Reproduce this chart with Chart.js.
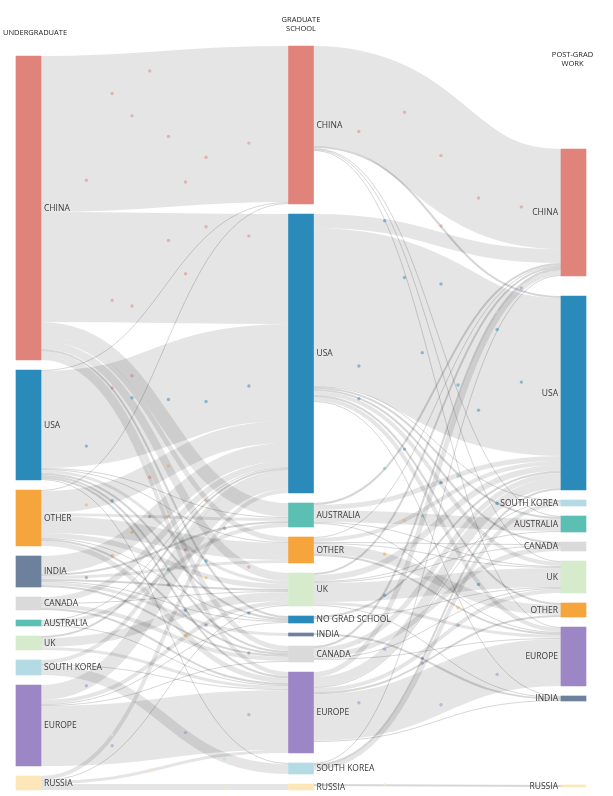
<!DOCTYPE html>
<html>
<head>
<meta charset="utf-8">
<title>AI talent flows</title>
<script src="https://cdn.jsdelivr.net/npm/chart.js@4"></script>
<style>
  html, body { margin: 0; padding: 0; background: #fff; }
  canvas { display: block; }
</style>
</head>
<body>
<canvas id="sankey" width="613" height="796"></canvas>
<script>
// columns of the diagram, top to bottom
const undergrad = ['CHINA', 'USA', 'OTHER', 'INDIA', 'CANADA', 'AUSTRALIA', 'UK', 'SOUTH KOREA', 'EUROPE', 'RUSSIA'];
const gradSchool = ['CHINA', 'USA', 'AUSTRALIA', 'OTHER', 'UK', 'NO GRAD SCHOOL', 'INDIA', 'CANADA', 'EUROPE', 'SOUTH KOREA', 'RUSSIA'];
const postGrad = ['CHINA', 'USA', 'SOUTH KOREA', 'AUSTRALIA', 'CANADA', 'UK', 'OTHER', 'EUROPE', 'INDIA', 'RUSSIA'];
const columnTitles = [['UNDERGRADUATE'], ['GRADUATE', 'SCHOOL'], ['POST-GRAD', 'WORK']];

// [from, to, researchers]
const undergradToGrad = [
    ['CHINA', 'CHINA', 156], ['CHINA', 'USA', 110], ['CHINA', 'AUSTRALIA', 14], ['CHINA', 'OTHER', 5],
    ['CHINA', 'UK', 8], ['CHINA', 'NO GRAD SCHOOL', 2], ['CHINA', 'CANADA', 5], ['CHINA', 'EUROPE', 4],
    ['USA', 'CHINA', 1], ['USA', 'USA', 97], ['USA', 'AUSTRALIA', 1], ['USA', 'OTHER', 1], ['USA', 'UK', 3],
    ['USA', 'NO GRAD SCHOOL', 2], ['USA', 'CANADA', 2], ['USA', 'EUROPE', 2], ['USA', 'SOUTH KOREA', 1],
    ['OTHER', 'CHINA', 1], ['OTHER', 'USA', 22], ['OTHER', 'AUSTRALIA', 3], ['OTHER', 'OTHER', 17],
    ['OTHER', 'UK', 5], ['OTHER', 'NO GRAD SCHOOL', 1], ['OTHER', 'CANADA', 2], ['OTHER', 'EUROPE', 5],
    ['INDIA', 'USA', 18], ['INDIA', 'AUSTRALIA', 2], ['INDIA', 'OTHER', 3], ['INDIA', 'UK', 2],
    ['INDIA', 'NO GRAD SCHOOL', 1], ['INDIA', 'INDIA', 3], ['INDIA', 'CANADA', 2],
    ['CANADA', 'USA', 6], ['CANADA', 'UK', 1], ['CANADA', 'CANADA', 4], ['CANADA', 'EUROPE', 2],
    ['AUSTRALIA', 'USA', 1], ['AUSTRALIA', 'AUSTRALIA', 4], ['AUSTRALIA', 'EUROPE', 1],
    ['UK', 'USA', 2], ['UK', 'UK', 9], ['UK', 'EUROPE', 3],
    ['SOUTH KOREA', 'USA', 4], ['SOUTH KOREA', 'EUROPE', 1], ['SOUTH KOREA', 'SOUTH KOREA', 10],
    ['EUROPE', 'USA', 15], ['EUROPE', 'UK', 4], ['EUROPE', 'NO GRAD SCHOOL', 1], ['EUROPE', 'CANADA', 1],
    ['EUROPE', 'EUROPE', 60],
    ['RUSSIA', 'USA', 4], ['RUSSIA', 'UK', 1], ['RUSSIA', 'EUROPE', 3], ['RUSSIA', 'RUSSIA', 6],
];

const gradToWork = [
    ['CHINA', 'CHINA', 100], ['CHINA', 'USA', 2], ['CHINA', 'AUSTRALIA', 1], ['CHINA', 'UK', 1], ['CHINA', 'EUROPE', 1],
    ['USA', 'CHINA', 14], ['USA', 'USA', 158], ['USA', 'SOUTH KOREA', 1], ['USA', 'AUSTRALIA', 2],
    ['USA', 'CANADA', 2], ['USA', 'UK', 4], ['USA', 'OTHER', 2], ['USA', 'EUROPE', 4], ['USA', 'INDIA', 1],
    ['AUSTRALIA', 'CHINA', 2], ['AUSTRALIA', 'USA', 5], ['AUSTRALIA', 'AUSTRALIA', 12], ['AUSTRALIA', 'UK', 1],
    ['AUSTRALIA', 'EUROPE', 1],
    ['OTHER', 'CHINA', 1], ['OTHER', 'USA', 4], ['OTHER', 'CANADA', 1], ['OTHER', 'UK', 1], ['OTHER', 'OTHER', 10],
    ['OTHER', 'EUROPE', 2],
    ['UK', 'CHINA', 2], ['UK', 'USA', 6], ['UK', 'AUSTRALIA', 1], ['UK', 'CANADA', 1], ['UK', 'UK', 19],
    ['UK', 'EUROPE', 3], ['UK', 'INDIA', 1],
    ['NO GRAD SCHOOL', 'USA', 2], ['NO GRAD SCHOOL', 'UK', 1],
    ['INDIA', 'INDIA', 2],
    ['CANADA', 'CHINA', 2], ['CANADA', 'USA', 5], ['CANADA', 'CANADA', 5], ['CANADA', 'UK', 1], ['CANADA', 'EUROPE', 1],
    ['EUROPE', 'CHINA', 5], ['EUROPE', 'USA', 10], ['EUROPE', 'UK', 4], ['EUROPE', 'OTHER', 2],
    ['EUROPE', 'EUROPE', 47], ['EUROPE', 'INDIA', 1], ['EUROPE', 'SOUTH KOREA', 1],
    ['SOUTH KOREA', 'CHINA', 1], ['SOUTH KOREA', 'USA', 2], ['SOUTH KOREA', 'SOUTH KOREA', 4],
    ['RUSSIA', 'RUSSIA', 2],
];

// styling / layout
const NODE_COLORS = {
    'CHINA': '#e0837a',
    'USA': '#2a8bbb',
    'OTHER': '#f6a43c',
    'INDIA': '#6d809c',
    'CANADA': '#dadada',
    'AUSTRALIA': '#5bbfb4',
    'UK': '#d5ebcb',
    'SOUTH KOREA': '#b4dbe3',
    'EUROPE': '#9d86c6',
    'RUSSIA': '#fde7b8',
    'NO GRAD SCHOOL': '#2a8bbb',
};
const NODE_WIDTH = 25;
const NODE_GAP = 10;
const Y_MAX = 744;
// extra room above some post-grad nodes (they float next to their sources)
const POST_GRAD_EXTRA = { 'CHINA': 103, 'USA': 10, 'RUSSIA': 74 };
const LINK_COLOR = 'rgba(0, 0, 0, 0.1)';
const THIN_LINK_COLOR = 'rgba(0, 0, 0, 0.16)';
const LABEL_FONT = '8.5px "Open Sans", "DejaVu Sans", sans-serif';
const TITLE_FONT = '7.5px "Open Sans", "DejaVu Sans", sans-serif';

/**
 * build nodes and links, then stack nodes in each column
 */
function buildLayout() {
    const columns = [undergrad, gradSchool, postGrad];
    const nodes = columns.map((names, col) => names.map(name => ({
        name, col, inV: 0, outV: 0, srcLinks: [], tgtLinks: [],
    })));
    const links = [];
    [undergradToGrad, gradToWork].forEach((list, col) => {
        list.forEach(([from, to, value]) => {
            const s = nodes[col].find(n => n.name === from);
            const t = nodes[col + 1].find(n => n.name === to);
            const link = { s, t, value };
            s.outV += value;
            t.inV += value;
            s.srcLinks.push(link);
            t.tgtLinks.push(link);
            links.push(link);
        });
    });

    nodes.forEach((colNodes, col) => {
        colNodes.forEach(n => { n.value = Math.max(n.inV, n.outV); });
        if (col < 2) {
            // bottom aligned
            const span = colNodes.reduce((a, n) => a + n.value, 0) + (colNodes.length - 1) * NODE_GAP;
            let y = Y_MAX - span;
            colNodes.forEach(n => { n.y0 = y; n.y1 = y + n.value; y = n.y1 + NODE_GAP; });
        } else {
            let y = 0;
            colNodes.forEach((n, i) => {
                y += (POST_GRAD_EXTRA[n.name] || 0) + (i ? NODE_GAP : 0);
                n.y0 = y; n.y1 = y + n.value; y = n.y1;
            });
        }
    });

    // link offsets inside nodes
    nodes.flat().forEach(n => {
        let sy = n.y0;
        n.srcLinks.sort((a, b) => a.t.y0 - b.t.y0).forEach(l => { l.sy = sy; sy += l.value; });
        let ty = n.y0;
        n.tgtLinks.sort((a, b) => a.s.y0 - b.s.y0).forEach(l => { l.ty = ty; ty += l.value; });
    });

    return { nodes: nodes.flat(), links };
}

const layout = buildLayout();

function hexToRgba(hex, a) {
    const v = parseInt(hex.slice(1), 16);
    return `rgba(${(v >> 16) & 255}, ${(v >> 8) & 255}, ${v & 255}, ${a})`;
}

// fixed spots for the little particles on the flows
const DOT_T = [0.14, 0.52, 0.33, 0.71, 0.88, 0.24, 0.61, 0.42, 0.79];
const DOT_OFF = [0.3, -0.25, 0.05, 0.35, -0.1, -0.38, 0.2, -0.3, 0.12];

function bezierPoint(p0, p1, p2, p3, t) {
    const u = 1 - t;
    return u * u * u * p0 + 3 * u * u * t * p1 + 3 * u * t * t * p2 + t * t * t * p3;
}

const sankeyPlugin = {
    id: 'sankeyLinks',
    beforeDraw(chart) {
        const ctx = chart.ctx;
        ctx.save();
        ctx.fillStyle = '#fff';
        ctx.fillRect(0, 0, chart.width, chart.height);
        ctx.restore();
    },
    beforeDatasetsDraw(chart) {
        const { ctx, scales: { x, y } } = chart;
        const unit = Math.abs(y.getPixelForValue(1) - y.getPixelForValue(0));
        ctx.save();
        ctx.lineCap = 'butt';
        layout.links.forEach((l, i) => {
            const x0 = x.getPixelForValue(l.s.col) + NODE_WIDTH / 2;
            const x1 = x.getPixelForValue(l.t.col) - NODE_WIDTH / 2;
            const w = l.value * unit;
            const y0 = y.getPixelForValue(l.sy) + w / 2;
            const y1 = y.getPixelForValue(l.ty) + w / 2;
            const xm = (x0 + x1) / 2;
            ctx.beginPath();
            ctx.moveTo(x0, y0);
            ctx.bezierCurveTo(xm, y0, xm, y1, x1, y1);
            ctx.lineWidth = Math.max(w, 1);
            ctx.strokeStyle = l.value <= 2 ? THIN_LINK_COLOR : LINK_COLOR;
            ctx.stroke();

            // particles
            const count = l.value >= 2 ? 1 + Math.floor(l.value / 22) : 0;
            ctx.fillStyle = hexToRgba(NODE_COLORS[l.s.name], 0.5);
            for (let k = 0; k < count; k++) {
                const t = DOT_T[(k + i) % DOT_T.length];
                const px = bezierPoint(x0, xm, xm, x1, t);
                const py = bezierPoint(y0, y0, y1, y1, t) + DOT_OFF[(k * 2 + i) % DOT_OFF.length] * w;
                ctx.beginPath();
                ctx.arc(px, py, 1.7, 0, Math.PI * 2);
                ctx.fill();
            }
        });
        ctx.restore();
    },
    afterDatasetsDraw(chart) {
        const { ctx, scales: { x, y } } = chart;
        ctx.save();
        ctx.font = LABEL_FONT;
        ctx.fillStyle = '#3a3a3a';
        ctx.textBaseline = 'middle';
        layout.nodes.forEach(n => {
            const cx = x.getPixelForValue(n.col);
            const cy = (y.getPixelForValue(n.y0) + y.getPixelForValue(n.y1)) / 2;
            if (n.col < 2) {
                ctx.textAlign = 'left';
                ctx.fillText(n.name, cx + NODE_WIDTH / 2 + 3, cy + 0.5);
            } else {
                ctx.textAlign = 'right';
                ctx.fillText(n.name, cx - NODE_WIDTH / 2 - 3, cy + 0.5);
            }
        });

        // column titles
        ctx.font = TITLE_FONT;
        ctx.fillStyle = '#222';
        ctx.textAlign = 'left';
        ctx.fillText(columnTitles[0][0], 3, 33);
        ctx.textAlign = 'center';
        columnTitles[1].forEach((t, i) => ctx.fillText(t, x.getPixelForValue(1), 20 + i * 9));
        columnTitles[2].forEach((t, i) => ctx.fillText(t, x.getPixelForValue(2) - 1, 55 + i * 9));
        ctx.restore();
    },
};

const nodeBars = layout.nodes.map(n => ({ x: n.col, y: [n.y0, n.y1] }));

new Chart(document.getElementById('sankey').getContext('2d'), {
    type: 'bar',
    data: {
        datasets: [{
            data: nodeBars,
            backgroundColor: layout.nodes.map(n => NODE_COLORS[n.name]),
            barThickness: NODE_WIDTH,
            borderWidth: 0,
            clip: false,
        }],
    },
    options: {
        responsive: false,
        animation: false,
        layout: { padding: { left: 28.5, right: 39.5, top: 46, bottom: 6 } },
        scales: {
            x: { type: 'linear', min: 0, max: 2, offset: false, display: false },
            y: { type: 'linear', min: 0, max: Y_MAX, reverse: true, display: false },
        },
        plugins: {
            legend: { display: false },
            tooltip: { enabled: false },
        },
    },
    plugins: [sankeyPlugin],
});
</script>
</body>
</html>
